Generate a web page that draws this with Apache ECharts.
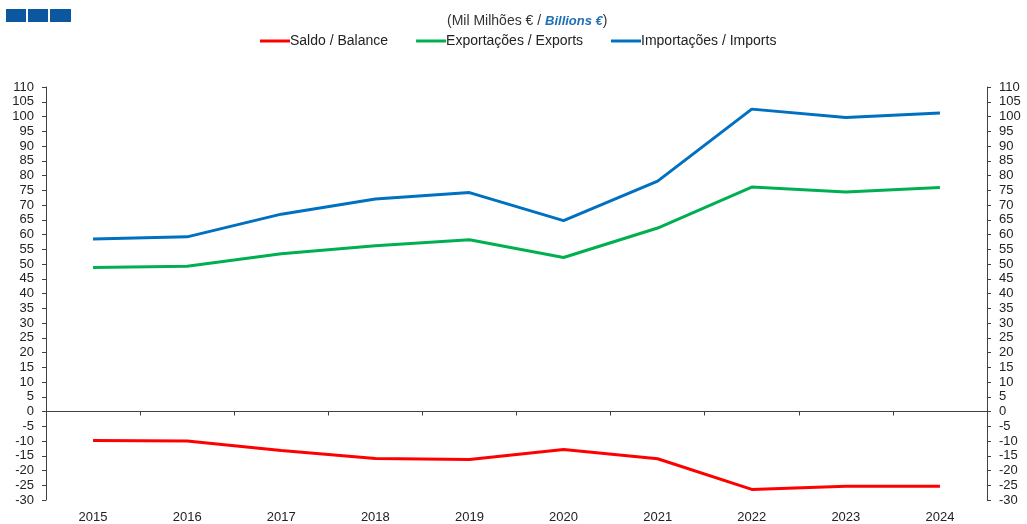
<!DOCTYPE html>
<html>
<head>
<meta charset="utf-8">
<script src="https://cdn.jsdelivr.net/npm/echarts@6/dist/echarts.min.js"></script>
<style>
  html, body { margin: 0; padding: 0; background: #fff; }
  #chart { width: 1027px; height: 524px; }
</style>
</head>
<body>
<div id="chart"></div>
<script>
var years = ['2015', '2016', '2017', '2018', '2019', '2020', '2021', '2022', '2023', '2024'];
var saldo = [-9.8, -10.0, -13.2, -15.9, -16.3, -12.9, -16.0, -26.4, -25.3, -25.3];
var exportacoes = [48.8, 49.2, 53.5, 56.2, 58.2, 52.2, 62.2, 76.1, 74.4, 75.9];
var importacoes = [58.5, 59.2, 66.9, 72.0, 74.2, 64.7, 78.1, 102.5, 99.7, 101.2];
var seriesNames = ['Saldo / Balance', 'Exportações / Exports', 'Importações / Imports'];
var seriesColors = ['#ff0000', '#00b050', '#0070c0'];

var font = 'Liberation Sans, Arial, sans-serif';
var axisColor = '#404040';

function valueAxis(pos) {
  return {
    type: 'value',
    position: pos,
    min: -30,
    max: 110,
    interval: 5,
    splitLine: { show: false },
    axisLine: { show: true, onZero: false, lineStyle: { color: axisColor, width: 1 } },
    axisTick: { show: true, inside: false, length: 4, lineStyle: { color: axisColor } },
    axisLabel: {
      margin: 12,
      color: '#222',
      fontFamily: font,
      fontSize: 13
    }
  };
}

var chart = echarts.init(document.getElementById('chart'), null, { renderer: 'canvas' });

var option = {
  animation: false,
  backgroundColor: '#fff',
  title: {
    text: '{a|(Mil Milhões € / }{b|Billions €}{a|)}',
    left: 442,
    top: 9,
    textStyle: {
      fontWeight: 'normal',
      rich: {
        a: { color: '#333', fontFamily: font, fontSize: 14, fontWeight: 'normal' },
        b: { color: '#1f6fb5', fontFamily: font, fontSize: 13, fontWeight: 'bold', fontStyle: 'italic' }
      }
    }
  },
  graphic: [
    { type: 'rect', left: 6, top: 9, shape: { width: 20, height: 13 }, style: { fill: '#0b57a0' } },
    { type: 'rect', left: 28, top: 9, shape: { width: 20, height: 13 }, style: { fill: '#0b57a0' } },
    { type: 'rect', left: 50, top: 9, shape: { width: 21, height: 13 }, style: { fill: '#0b57a0' } }
  ],
  legend: {
    left: 255,
    top: 29,
    icon: 'rect',
    itemWidth: 30,
    itemHeight: 3,
    itemGap: 28,
    textStyle: { color: '#222', fontFamily: font, fontSize: 14, padding: [0, 0, 0, -5] },
    data: seriesNames
  },
  grid: {
    left: 46,
    right: 40,
    top: 87,
    bottom: 24,
    containLabel: false
  },
  xAxis: [{
    // labels along the bottom
    type: 'category',
    data: years,
    position: 'bottom',
    boundaryGap: true,
    axisLine: { show: false, onZero: false },
    axisTick: { show: false },
    axisLabel: { margin: 11, color: '#222', fontFamily: font, fontSize: 13 }
  }, {
    // line and ticks on zero
    type: 'category',
    data: years,
    position: 'bottom',
    boundaryGap: true,
    axisLine: { show: true, onZero: true, lineStyle: { color: axisColor, width: 1 } },
    axisTick: { show: true, inside: false, length: 4, lineStyle: { color: axisColor } },
    axisLabel: { show: false }
  }],
  yAxis: [
    valueAxis('left'),
    valueAxis('right')
  ],
  series: [
    { name: seriesNames[0], type: 'line', data: saldo },
    { name: seriesNames[1], type: 'line', data: exportacoes },
    { name: seriesNames[2], type: 'line', data: importacoes }
  ].map(function (s, i) {
    s.xAxisIndex = 0;
    s.yAxisIndex = 0;
    s.symbol = 'none';
    s.color = seriesColors[i];
    s.lineStyle = { color: seriesColors[i], width: 3 };
    return s;
  })
};

chart.setOption(option);
</script>
</body>
</html>
